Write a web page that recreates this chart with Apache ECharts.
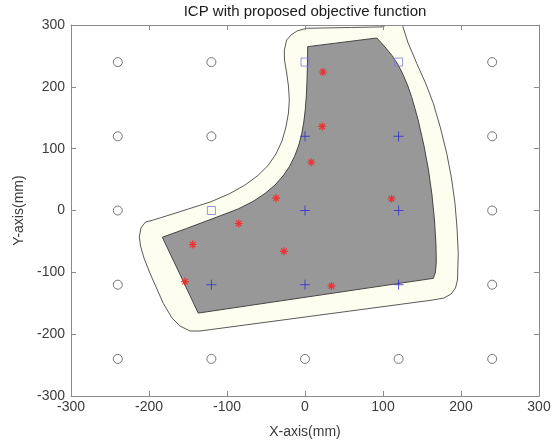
<!DOCTYPE html>
<html>
<head>
<meta charset="utf-8">
<script src="https://cdn.jsdelivr.net/npm/echarts@6/dist/echarts.min.js"></script>
<style>
  html, body { margin: 0; padding: 0; background: #ffffff; }
  #chart { width: 556px; height: 446px; }
</style>
</head>
<body>
<div id="chart"></div>
<script>
// Axis range (mm) and tick spacing
const axisMin = -300;
const axisMax = 300;
const tickStep = 100;

// Reference grid points (open circles) lying outside the part
const gridCircles = [
  [-240, 240], [-120, 240], [240, 240],
  [-240, 120], [-120, 120], [240, 120],
  [-240, 0], [240, 0],
  [-240, -120], [240, -120],
  [-240, -240], [-120, -240], [0, -240], [120, -240], [240, -240]
];

// Grid points falling in the boundary margin (open squares)
const boundarySquares = [[0, 240], [120, 240], [-120, 0]];

// Grid points inside the part (plus markers)
const interiorPlus = [
  [0, 120], [120, 120],
  [0, 0], [120, 0],
  [-120, -120], [0, -120], [120, -120]
];

// ICP-registered measurement points (red asterisks)
const icpPoints = [
  [23, 224], [22, 136], [8, 78], [-37, 20], [-85, -21],
  [-144, -55], [-27, -66], [-154, -115], [34, -122], [111, 19]
];

// Outline of the part (grey region), clockwise from the top-left corner
const partOutline = [
  [3.5, 265], [92.1, 279.0],
  [102.6, 264.4], [111.5, 250.7], [119.2, 236.1], [125.6, 220.0], [131.4, 203.0],
  [136.5, 184.4], [141.0, 165.0], [145.3, 144.8], [152.6, 104.3], [158.3, 65.5],
  [162.8, 25.1], [166.0, -15.4], [167.9, -55.8], [168.3, -83.3], [167.3, -99.5],
  [164.5, -109.7],
  [-136.9, -165.9], [-160, -104],
  [-182.9, -43.3],
  [-151.9, -29.1], [-120.5, -14.2], [-85.9, 2.4], [-66.7, 14.6], [-51.3, 27.5],
  [-38.5, 41.2], [-28.2, 55.8], [-19.9, 71.2], [-13.5, 87.3], [-8.3, 104.3],
  [-4.5, 122.1], [-1.7, 141.5], [0.3, 162.5], [1.7, 185.2], [2.6, 211.1], [3.2, 240.2]
];

// Outline of the tolerance margin around the part (cream band), clockwise
const marginOutline = [
  [2.2, 294.7], [60, 296], [100, 297], [118.8, 311.3], [125.6, 297.3],
  [131.7, 272.5], [143.2, 238.1], [154.5, 206.2], [164.5, 173.4], [173.7, 133.4],
  [181.7, 92.5], [187.8, 52.6], [192.3, 11.6], [194.9, -28.3], [196.5, -69.2],
  [195.5, -112.4], [192.9, -125.4], [187.2, -135.1], [178.2, -141.5], [163.7, -144.8],
  [-134.6, -194.9], [-147.4, -194.9], [-160.3, -186.8], [-170.5, -173.9],
  [-181.7, -150.1], [-198.7, -101.6], [-206.4, -76.8], [-210.9, -57.4],
  [-212.4, -42.4], [-210.3, -28.3], [-204.5, -18.6], [-194.5, -15.4],
  [-160.3, -1.9], [-120.5, 14.2], [-96.2, 27.5], [-76.9, 41.2], [-60.3, 56.6],
  [-47.4, 72.8], [-37.2, 91.4], [-29.5, 112.4], [-24.4, 135.0], [-21.2, 157.7],
  [-20.1, 178.7], [-21.2, 201.4], [-23.7, 224.0], [-26.3, 243.4], [-26.5, 259.6],
  [-23.5, 275.8], [-17.9, 283.8], [-10.3, 290.3]
];

const FONT = '"Liberation Sans", Arial, Helvetica, sans-serif';
const AXIS_COLOR = '#8a8a8a';
const LABEL_COLOR = '#3c3c3c';

function polygonSeries(points, fill, stroke, z) {
  return {
    type: 'custom',
    coordinateSystem: 'cartesian2d',
    clip: true,
    silent: true,
    z: z,
    data: [[0, 0]],
    encode: { x: 0, y: 1 },
    renderItem: function (params, api) {
      const pts = points.map(function (p) { return api.coord(p); });
      return {
        type: 'polygon',
        shape: { points: pts },
        style: { fill: fill, stroke: stroke, lineWidth: 1 }
      };
    }
  };
}

function valueAxis(position, showLabels, name) {
  const ax = {
    type: 'value',
    position: position,
    min: axisMin,
    max: axisMax,
    interval: tickStep,
    z: 10,
    axisLine: { show: true, onZero: false, lineStyle: { color: AXIS_COLOR, width: 1 } },
    axisTick: { show: true, inside: true, length: 5, lineStyle: { color: AXIS_COLOR, width: 1 } },
    axisLabel: { show: showLabels, color: LABEL_COLOR, fontSize: 14, fontFamily: FONT },
    splitLine: { show: false }
  };
  if (name) {
    ax.name = name;
    ax.nameLocation = 'middle';
    ax.nameTextStyle = { color: LABEL_COLOR, fontSize: 14, fontFamily: FONT };
  }
  return ax;
}

const xBottom = valueAxis('bottom', true, 'X-axis(mm)');
xBottom.axisLabel.margin = 4;
xBottom.nameGap = 29;
const xTop = valueAxis('top', false);
const yLeft = valueAxis('left', true, 'Y-axis(mm)');
yLeft.axisLabel.margin = 6;
yLeft.nameGap = 42;
const yRight = valueAxis('right', false);

const chart = echarts.init(document.getElementById('chart'), null, { renderer: 'canvas' });
chart.setOption({
  animation: false,
  backgroundColor: '#ffffff',
  title: {
    text: 'ICP with proposed objective function',
    left: 305,
    top: 4,
    padding: 0,
    textAlign: 'center',
    textStyle: { color: '#1a1a1a', fontSize: 15, fontWeight: 'normal', fontFamily: FONT }
  },
  grid: { left: 71, right: 17, top: 25, bottom: 50, containLabel: false },
  xAxis: [xBottom, xTop],
  yAxis: [yLeft, yRight],
  series: [
    polygonSeries(marginOutline, '#fefef0', '#5a5a5a', 1),
    polygonSeries(partOutline, '#989898', '#454545', 2),
    {
      type: 'scatter',
      data: gridCircles,
      symbol: 'circle',
      symbolSize: 9,
      z: 3,
      itemStyle: { color: 'rgba(0,0,0,0)', borderColor: '#555555', borderWidth: 1 }
    },
    {
      type: 'scatter',
      data: boundarySquares,
      symbol: 'rect',
      symbolSize: 8,
      z: 3,
      itemStyle: { color: 'rgba(0,0,0,0)', borderColor: '#7b7be0', borderWidth: 1 }
    },
    {
      type: 'scatter',
      data: interiorPlus,
      symbol: 'path://M0,5L10,5M5,0L5,10',
      symbolSize: 10,
      z: 3,
      itemStyle: { color: '#2e2ed2', borderColor: '#2e2ed2', borderWidth: 1 }
    },
    {
      type: 'scatter',
      data: icpPoints,
      symbol: 'path://M0,5L10,5M5,0L5,10M1.5,1.5L8.5,8.5M1.5,8.5L8.5,1.5',
      symbolSize: 8,
      z: 4,
      itemStyle: { color: '#ff1a1a', borderColor: '#ff1a1a', borderWidth: 1.2 }
    }
  ]
});
</script>
</body>
</html>
